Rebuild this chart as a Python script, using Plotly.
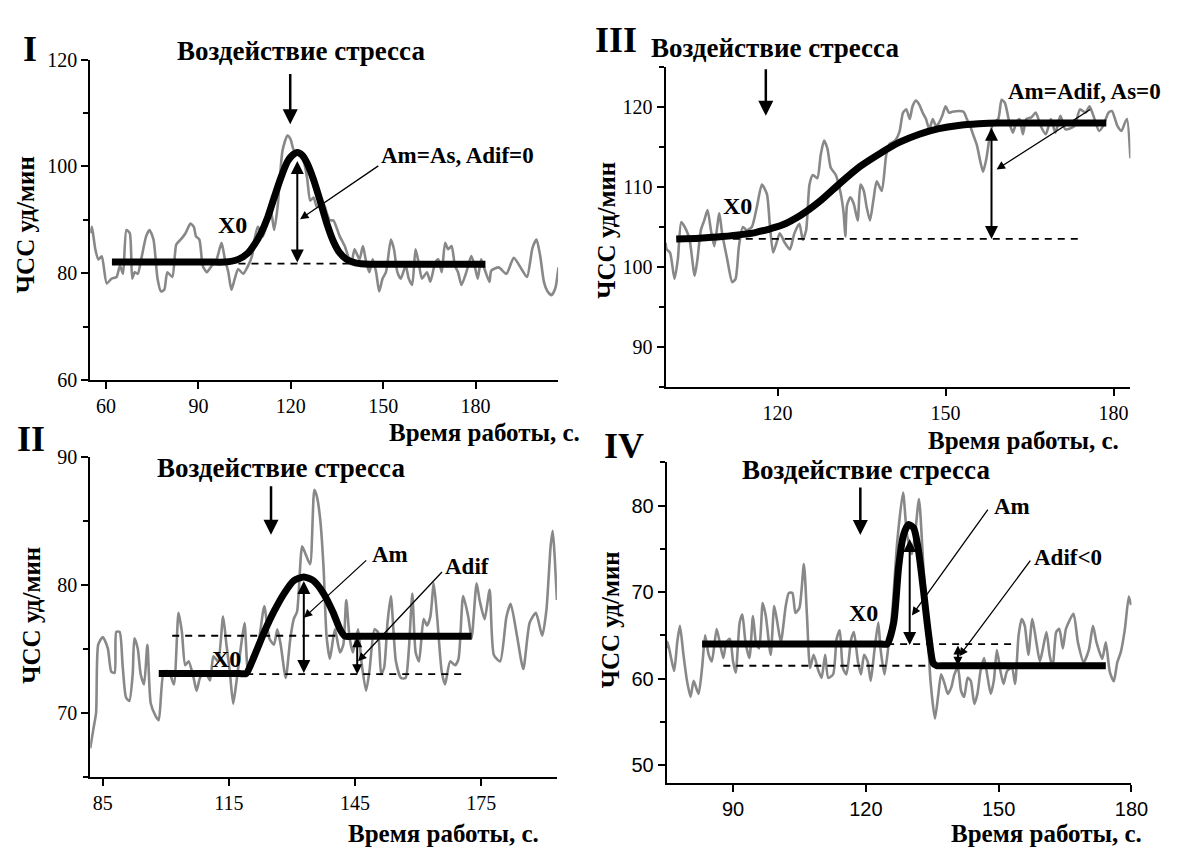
import plotly.graph_objects as go

W, H = 1202, 848

# ---------------- DATA ----------------
# Panel I
I_t = [55.0, 55.4, 56.5, 57.5, 58.6, 60.2, 61.8, 63.4, 64.5, 65.5, 66.6, 67.7, 68.5, 69.3, 70.3, 71.4, 73.0, 74.1,
       75.4, 76.7, 77.8, 78.9, 79.9, 81.5, 82.8, 84.2, 85.8, 87.4, 88.5, 89.2, 90.3, 91.4, 92.7, 94.3, 95.9, 97.5,
       98.6, 99.7, 100.7, 101.8, 102.9, 104.5, 106.1, 107.4, 108.2, 109.3, 110.9, 112.5, 113.5, 114.6, 115.7, 117.3,
       118.9, 119.9, 121.0, 122.6, 124.2, 125.3, 126.3, 127.4, 128.5, 130.6, 131.7, 132.7, 133.8, 135.9, 137.5,
       138.6, 139.7, 140.7, 142.3, 143.4, 144.5, 145.5, 146.6, 147.7, 148.7, 149.8, 150.9, 152.5, 153.5, 154.6,
       155.7, 157.3, 158.3, 159.4, 160.5, 161.5, 162.6, 164.2, 165.3, 166.9, 167.9, 169.0, 170.1, 171.1, 172.2,
       173.3, 174.3, 175.4, 177.0, 178.6, 179.7, 180.7, 181.8, 182.9, 184.5, 185.1, 187.5, 190.0, 192.4, 194.9,
       196.7, 198.5, 199.8, 201.0, 202.2, 203.4, 204.7, 205.9, 206.9]
I_v = [87.5, 88.7, 84.5, 82.6, 83.2, 78.1, 79.0, 79.3, 81.4, 79.9, 88.1, 87.5, 79.0, 80.2, 79.9, 82.6, 86.9, 88.1,
       86.3, 79.0, 76.6, 76.9, 80.2, 79.3, 85.4, 86.3, 87.5, 89.3, 88.7, 86.9, 86.3, 81.4, 80.2, 81.4, 82.6, 85.7,
       82.6, 80.2, 76.9, 79.0, 80.8, 79.9, 81.4, 83.2, 86.3, 88.7, 86.9, 89.9, 91.8, 88.1, 92.4, 103.0,
       105.8, 105.1, 103.0, 102.4, 100.9, 97.8, 93.6, 94.2, 92.4, 93.0, 91.2, 89.9, 89.9, 86.9, 85.1,
       83.2, 82.0, 84.5, 82.6, 85.1, 82.0, 80.2, 82.6, 80.2, 76.6, 79.0, 80.2, 86.3, 84.5, 80.2,
       79.0, 81.4, 79.0, 77.8, 84.5, 82.0, 79.0, 80.2, 78.4, 82.0, 82.6, 80.2, 85.7, 84.5, 85.1,
       81.4, 80.2, 77.8, 80.2, 83.2, 81.4, 79.0, 82.6, 80.8, 78.4, 80.5, 81.1, 79.9, 82.9, 80.8,
       79.3, 84.8, 86.3, 83.2, 78.4, 76.6, 75.9, 77.2, 81.1]
I_fit_t = [61.9, 72.0, 84.0, 93.0, 98.6, 102.9, 106.1, 108.2, 110.3, 112.5, 114.6, 116.7, 118.9, 120.5, 122.1,
           123.7, 125.3, 127.4, 129.5, 131.7, 133.8, 135.9, 138.1, 141.3, 145.5, 152.0, 162.0, 172.0, 183.2]
I_fit_v = [82.1, 82.1, 82.1, 82.1, 82.1, 82.6, 83.8, 85.4, 87.5, 90.5, 94.2, 97.8, 100.9, 102.1, 102.6,
           102.1, 100.6, 97.5, 93.6, 89.3, 86.0, 83.8, 82.6, 81.9, 81.7, 81.7, 81.7, 81.7, 81.7]
I_base = 81.8
I_dash_t = [103.0, 140.0]

# Panel III
III_t = [100.0, 100.2, 100.8, 101.6, 102.2, 102.8, 103.7, 104.3, 105.2, 105.7, 106.3, 106.9, 107.5, 108.1, 108.7,
         109.6, 110.1, 111.0, 111.9, 112.5, 113.1, 113.8, 114.5, 115.4, 116.3, 117.2, 118.1, 118.6, 119.2, 119.8,
         120.4, 121.3, 122.2, 123.0, 123.9, 124.5, 125.1, 125.7, 126.3, 127.1, 127.7, 128.3, 128.9, 129.5, 130.4,
         131.3, 131.8, 132.1, 132.4, 133.0, 133.6, 134.3, 134.8, 135.4, 135.9, 136.5, 137.1, 137.7, 138.6, 139.4,
         140.0, 140.6, 141.2, 141.8, 142.4, 143.0, 143.6, 144.1, 144.7, 145.3, 145.9, 146.5, 147.1, 147.7, 148.3,
         148.8, 149.4, 150.0, 150.6, 151.2, 152.4, 153.2, 153.8, 154.4, 155.0, 155.6, 156.2, 156.7, 157.3, 157.9,
         158.5, 159.4, 160.0, 160.6, 161.4, 162.0, 162.6, 163.2, 163.8, 164.4, 165.3, 166.1, 167.0, 167.9, 168.8,
         169.6, 170.5, 171.4, 173.0, 174.0, 175.0, 175.7, 176.4, 177.4, 178.1, 179.1, 179.7, 180.7, 181.4, 182.0,
         182.4, 183.0]
III_v = [103.0, 102.2, 101.8, 98.5, 101.0, 105.6, 104.6, 103.4, 98.9, 101.0, 104.6, 105.8, 107.1, 104.6, 102.6,
         106.7, 104.2, 101.0, 98.1, 98.5, 102.6, 105.0, 104.6, 105.0, 107.5, 110.3, 109.1, 105.4, 101.8, 103.0,
         104.2, 103.0, 102.2, 104.2, 105.4, 103.4, 104.6, 110.3, 111.5, 111.1, 114.0, 115.8, 114.8, 112.4, 111.5,
         109.1, 106.7, 103.8, 107.7, 108.7, 107.9, 105.8, 110.3, 109.5, 107.5, 105.8, 108.3, 110.7, 109.5, 114.0,
         115.4, 115.6, 116.0, 117.0, 119.3, 119.7, 118.5, 120.1, 120.8, 120.3, 119.3, 118.5, 117.2, 118.5, 117.6,
         118.0, 118.9, 120.1, 119.3, 119.4, 119.5, 119.4, 118.5, 117.6, 116.4, 115.2, 113.2, 111.9, 113.6, 116.4,
         118.0, 118.5, 120.9, 120.5, 118.0, 116.8, 118.0, 118.5, 116.6, 118.5, 118.7, 119.3, 117.6, 116.6, 118.5,
         116.8, 118.9, 117.2, 117.6, 119.7, 119.3, 120.1, 118.9, 117.0, 117.6, 119.3, 119.5, 117.6, 117.0, 118.0,
         118.5, 113.6]
III_fit_t = [101.9, 106.0, 110.1, 116.0, 120.7, 124.2, 127.7, 131.2, 134.8, 138.3, 141.8, 145.3, 148.8, 152.3,
             155.9, 159.4, 165.0, 172.0, 178.7]
III_fit_v = [103.5, 103.6, 103.8, 104.3, 105.2, 106.5, 108.3, 110.5, 112.6, 114.2, 115.6, 116.6, 117.3, 117.7,
             117.9, 118.0, 118.0, 118.0, 118.0]
III_base = 103.5
III_dash_t = [112.0, 173.7]

# Panel II
II_t = [82.0, 82.8, 83.4, 83.9, 85.0, 86.2, 87.0, 87.8, 88.2, 89.0, 89.7, 90.5, 91.3, 92.1, 92.5, 93.3, 94.0, 94.8,
        95.6, 96.4, 97.6, 98.3, 99.5, 100.7, 101.9, 103.0, 103.8, 104.6, 105.4, 106.6, 107.3, 108.1, 109.3, 110.5,
        111.3, 112.4, 113.6, 114.4, 115.2, 116.0, 116.7, 117.9, 118.7, 119.5, 120.3, 121.0, 122.2, 123.4, 124.6,
        125.7, 126.5, 127.3, 128.5, 129.6, 130.4, 131.2, 132.4, 133.2, 134.3, 135.3, 135.9, 136.7, 137.5, 138.2,
        139.0, 140.2, 141.4, 142.2, 142.9, 143.7, 144.5, 145.7, 146.5, 147.6, 148.4, 149.6, 150.4, 151.2, 151.9,
        152.7, 153.5, 154.7, 155.9, 157.0, 157.8, 158.6, 159.4, 160.2, 161.3, 162.1, 162.9, 163.7, 164.5, 165.6,
        166.4, 167.6, 168.8, 169.6, 170.7, 171.9, 172.7, 173.9, 174.6, 175.8, 177.0, 178.0, 179.5, 181.0, 182.0,
        183.5, 185.0, 186.5, 188.0, 189.5, 190.5, 191.5, 192.0, 192.5, 193.0]
II_v = [67.2, 68.8, 70.0, 75.3, 75.9, 75.0, 73.2, 73.1, 76.3, 76.3, 73.7, 71.2, 70.9, 73.0, 75.8, 75.0, 73.0, 72.2,
        75.3, 70.7, 69.7, 69.4, 73.2, 73.2, 72.2, 77.8, 76.3, 73.7, 74.0, 72.7, 71.7, 72.7, 73.2, 72.5,
        74.4, 74.0, 77.5, 75.3, 73.2, 70.7, 72.2, 75.3, 77.0, 73.2, 74.2, 74.0, 75.8, 78.3, 75.8,
        75.3, 76.5, 75.3, 72.7, 75.8, 77.3, 77.9, 83.0, 82.4, 81.6, 87.4, 86.9, 85.1, 81.3, 76.0,
        74.2, 76.5, 74.7, 75.3, 78.8, 75.8, 74.7, 76.5, 74.0, 71.7, 73.2, 76.5, 76.3, 73.0, 73.5,
        77.0, 79.1, 74.0, 72.7, 72.7, 75.0, 79.3, 74.7, 74.0, 77.3, 76.8, 77.5, 80.1, 77.5, 73.2,
        72.2, 74.0, 73.7, 74.2, 79.1, 77.5, 75.8, 80.1, 78.8, 77.3, 79.6, 74.5, 74.0, 77.5, 78.5,
        76.0, 73.4, 77.0, 77.8, 76.0, 78.0, 83.0, 84.2, 82.0, 78.8]
II_fit_t = [98.3, 105.0, 112.0, 117.5, 119.1, 121.0, 123.4, 125.7, 128.1, 130.4, 132.8, 135.1, 137.5, 139.8, 141.4,
            142.6, 145.0, 152.0, 162.0, 172.7]
II_fit_v = [73.05, 73.05, 73.05, 73.05, 73.05, 74.4, 76.3, 77.9, 79.3, 80.3, 80.6, 80.3, 79.3, 77.8, 76.5,
            75.97, 75.97, 75.97, 75.97, 75.97]
II_upper = 76.0
II_lower = 73.0
II_upper_t = [101.5, 142.6]
II_lower_t = [119.1, 171.5]

# Panel IV
IV_t = [75.0, 75.2, 76.0, 76.7, 77.4, 78.0, 78.8, 79.6, 80.4, 81.1, 82.2, 83.0, 83.7, 84.5, 85.2, 86.3, 87.1, 87.8,
        88.5, 89.3, 90.0, 90.6, 91.5, 92.1, 92.8, 93.7, 94.5, 95.2, 95.9, 96.7, 97.4, 98.5, 99.3, 100.0, 100.8,
        101.9, 102.6, 103.4, 104.1, 105.0, 106.0, 106.7, 107.4, 108.2, 109.3, 110.0, 110.8, 111.5, 112.6, 113.4,
        114.1, 114.8, 115.6, 116.7, 117.3, 118.2, 118.9, 119.6, 120.4, 121.1, 121.9, 122.8, 123.3, 124.2, 125.2,
        126.0, 127.1, 128.4, 129.3, 130.4, 131.1, 132.0, 133.0, 133.7, 134.6, 135.6, 136.3, 137.0, 137.8, 138.5,
        139.3, 140.0, 140.8, 141.5, 142.2, 143.0, 143.7, 144.5, 145.2, 145.9, 146.7, 147.4, 148.2, 148.9, 149.6,
        150.4, 151.1, 151.9, 153.0, 153.7, 154.5, 155.2, 155.9, 156.7, 157.6, 158.5, 159.3, 160.0, 160.8, 161.5,
        162.2, 163.0, 163.7, 164.5, 165.2, 166.9, 167.9, 169.2, 170.4, 171.3, 172.1, 173.4, 174.2, 175.1, 176.0,
        176.8, 177.6, 178.5, 179.4, 179.9]
IV_v = [63.5, 64.25, 62.4, 60.9, 64.25, 66.1, 62.75, 59.75, 57.9, 59.75, 58.25, 61.25, 65.0, 62.75, 62.0, 65.75,
        63.9, 62.4, 64.25, 64.6, 62.0, 60.7, 66.5, 67.4, 64.25, 62.4, 67.25, 64.1, 63.5, 68.75, 67.25, 62.75,
        68.4, 66.5, 64.25, 68.4, 69.9, 69.9, 67.6, 68.2, 73.25, 67.25, 61.25, 62.75, 60.9, 60.1, 62.75, 60.1,
        60.5, 64.6, 65.6, 61.25, 60.5, 64.6, 65.4, 62.0, 60.5, 62.75, 62.0, 59.75, 63.1, 66.5, 63.5, 60.5,
        64.25, 68.0, 75.9, 81.5, 76.6, 74.4, 76.6, 80.75, 72.9, 68.0, 59.75, 55.4, 57.9, 60.5, 59.4, 58.25,
        59.0, 60.5, 61.25, 58.6, 57.9, 60.1, 59.75, 57.1, 58.25, 60.9, 62.4, 60.5, 58.25, 59.75, 63.3, 60.9,
        59.4, 60.9, 61.25, 59.4, 65.0, 66.9, 66.1, 62.75, 66.9, 64.25, 62.0, 63.5, 65.4, 62.75, 61.25, 65.4,
        65.75, 63.5, 65.75, 67.5, 64.2, 61.9, 63.4, 66.1, 64.2, 62.3, 64.2, 60.8, 59.7, 61.9, 63.1, 65.7,
        69.5, 68.5]
IV_fit_t = [83.0, 95.0, 108.0, 118.0, 123.5, 124.8, 126.3, 127.4, 128.5, 129.6, 130.8, 131.9, 133.0, 134.1, 135.2,
            136.0, 137.5, 145.0, 160.0, 174.2]
IV_fit_v = [64.0, 64.0, 64.0, 64.0, 64.0, 64.0, 66.5, 72.9, 76.6, 77.8, 77.4, 74.75, 70.25, 65.4, 61.8,
            61.5, 61.5, 61.5, 61.5, 61.5]
IV_upper = 64.0
IV_lower = 61.5
IV_upper_t = [124.8, 153.7]
IV_lower_t = [87.8, 134.5]

# tick labels
I_xticks = [60, 90, 120, 150, 180]
I_yticks = [60, 80, 100, 120]
III_xticks = [120, 150, 180]
III_yticks = [90, 100, 110, 120]
II_xticks = [85, 115, 145, 175]
II_yticks = [70, 80, 90]
IV_xticks = [90, 120, 150, 180]
IV_yticks = [50, 60, 70, 80]

STRESS = "Воздействие стресса"
YLAB = "ЧСС уд/мин"
XLAB = "Время работы, с."

# ---------------- FIGURE ----------------
SERIF = "Liberation Serif, Times New Roman, serif"
SANS = "Liberation Sans, Arial, sans-serif"
GREY = "#888888"


def fx(p):
    return p / W


def fy(p):
    return 1 - p / H


fig = go.Figure()

panels = [
    ("x", "y", I_t, I_v, I_fit_t, I_fit_v),
    ("x2", "y2", III_t, III_v, III_fit_t, III_fit_v),
    ("x3", "y3", II_t, II_v, II_fit_t, II_fit_v),
    ("x4", "y4", IV_t, IV_v, IV_fit_t, IV_fit_v),
]

dash_sets = {
    "x": [(I_dash_t, I_base)],
    "x2": [(III_dash_t, III_base)],
    "x3": [(II_upper_t, II_upper), (II_lower_t, II_lower)],
    "x4": [(IV_upper_t, IV_upper), (IV_lower_t, IV_lower)],
}

for xa, ya, gt, gv, ft, fv in panels:
    fig.add_trace(go.Scatter(x=gt, y=gv, mode="lines", xaxis=xa, yaxis=ya,
                             line=dict(color=GREY, width=2.6, shape="spline", smoothing=0.6),
                             showlegend=False, hoverinfo="skip"))
    for dt, lvl in dash_sets[xa]:
        fig.add_trace(go.Scatter(x=dt, y=[lvl, lvl], mode="lines", xaxis=xa, yaxis=ya,
                                 line=dict(color="black", width=1.8, dash="7px,6px"),
                                 showlegend=False, hoverinfo="skip"))
    fig.add_trace(go.Scatter(x=ft, y=fv, mode="lines", xaxis=xa, yaxis=ya,
                             line=dict(color="black", width=7, shape="spline", smoothing=0.6),
                             showlegend=False, hoverinfo="skip"))


def xax(dom, rng, ticks, yanchor, family):
    return dict(domain=dom, range=rng, tickvals=ticks, anchor=yanchor, showline=True, linecolor="black",
                linewidth=2, ticks="outside", ticklen=7, tickwidth=1.5, tickcolor="black", showgrid=False,
                zeroline=False, tickfont=dict(family=family, size=20, color="black"))


def yax(dom, rng, ticks, minor, xanchor, family):
    return dict(domain=dom, range=rng, tickvals=ticks, anchor=xanchor, showline=True, linecolor="black",
                linewidth=2, ticks="outside", ticklen=7, tickwidth=1.5, tickcolor="black", showgrid=False,
                zeroline=False, tickfont=dict(family=family, size=20, color="black"),
                minor=dict(dtick=minor, tick0=0, ticks="outside", ticklen=5, tickwidth=1.5, tickcolor="black",
                           showgrid=False))


fig.update_layout(
    width=W, height=H, margin=dict(l=0, r=0, t=0, b=0),
    paper_bgcolor="white", plot_bgcolor="white", showlegend=False,
    xaxis=xax([fx(83.4), fx(558)], [54.85, 206.8], I_xticks, "y", SERIF),
    yaxis=yax([fy(370.7), fy(41.7)], [60, 120], I_yticks, 10, "x", SERIF),
    xaxis2=xax([fx(667), fx(1138.5)], [100, 183], III_xticks, "y2", SERIF),
    yaxis2=yax([fy(377.7), fy(49.3)], [85, 125], III_yticks, 5, "x2", SERIF),
    xaxis3=xax([fx(83.4), fx(556.8)], [82, 193], II_xticks, "y3", SERIF),
    yaxis3=yax([fy(777.7), fy(449.3)], [65, 90], II_yticks, 5, "x3", SERIF),
    xaxis4=xax([fx(668.1), fx(1139.6)], [75, 180], IV_xticks, "y4", SANS),
    yaxis4=yax([fy(784), fy(455)], [48, 85], IV_yticks, 5, "x4", SANS),
)

ann = []


def text(px, py, s, size, angle=0):
    ann.append(dict(x=fx(px), y=fy(py), xref="paper", yref="paper", text="<b>" + s + "</b>", showarrow=False,
                    xanchor="center", yanchor="middle", textangle=angle,
                    font=dict(family=SERIF, size=size, color="black")))


def arrow(xa, ya, x0, y0, x1, y1, width, head=2, size=1.0, both=False):
    ann.append(dict(x=x1, y=y1, ax=x0, ay=y0, xref=xa, yref=ya, axref=xa, ayref=ya, text="",
                    showarrow=True, arrowhead=head, arrowsize=size, arrowwidth=width, arrowcolor="black",
                    startarrowhead=head, startarrowsize=size, arrowside="end+start" if both else "end",
                    standoff=0, startstandoff=0))


# Panel I
text(22, 31, "I", 36)
text(297, 33, STRESS, 27)
arrow("x", "y", 119.8, 117.6, 119.8, 107.9, 2.5, 2, 1.2)
text(456, 140, "Am=As, Adif=0", 23)
arrow("x", "y", 148.9, 100.3, 123.0, 90.1, 1.3, 2, 1.3)
arrow("x", "y", 122.1, 101.3, 122.1, 82.0, 2.0, 2, 1.3, both=True)
text(228, 211, "X0", 24)
text(18, 211, YLAB, 25, -90)
text(483, 424, XLAB, 25)

# Panel III
text(617, 22, "III", 36)
text(778, 30, STRESS, 27)
arrow("x2", "y2", 117.9, 124.9, 117.9, 118.9, 2.5, 2, 1.2)
text(1092, 74, "Am=Adif, As=0", 23)
arrow("x2", "y2", 176.1, 119.8, 159.1, 112.2, 1.3, 2, 1.3)
arrow("x2", "y2", 158.2, 117.6, 158.2, 103.5, 2.0, 2, 1.3, both=True)
text(740, 192, "X0", 24)
text(607, 217, YLAB, 25, -90)
text(1030, 433, XLAB, 25)

# Panel II
text(23, 431, "II", 36)
text(277, 461, STRESS, 27)
arrow("x3", "y3", 125.0, 87.8, 125.0, 83.9, 2.5, 2, 1.2)
text(387, 550, "Am", 23)
arrow("x3", "y3", 148.0, 82.0, 132.8, 77.4, 1.3, 2, 1.3)
text(466, 562, "Adif", 23)
arrow("x3", "y3", 166.0, 81.1, 145.7, 74.0, 1.3, 2, 1.3)
arrow("x3", "y3", 132.8, 80.4, 132.8, 73.1, 2.0, 2, 1.3, both=True)
arrow("x3", "y3", 145.5, 76.0, 145.5, 73.0, 2.0, 2, 1.0, both=True)
text(222, 657, "X0", 24)
text(23, 612, YLAB, 25, -90)
text(442, 836, XLAB, 25)

# Panel IV
text(625, 438, "IV", 36)
text(870, 463, STRESS, 27)
arrow("x4", "y4", 118.75, 82.25, 118.75, 76.6, 2.5, 2, 1.2)
text(1018, 500, "Am", 23)
arrow("x4", "y4", 147.8, 79.7, 130.4, 67.3, 1.3, 2, 1.3)
text(1075, 553, "Adif&lt;0", 23)
arrow("x4", "y4", 157.4, 73.8, 141.1, 62.6, 1.3, 2, 1.3)
arrow("x4", "y4", 129.9, 76.3, 129.9, 63.9, 2.0, 2, 1.3, both=True)
arrow("x4", "y4", 140.8, 64.0, 140.8, 61.5, 2.0, 2, 0.9, both=True)
text(868, 610, "X0", 24)
text(612, 617, YLAB, 25, -90)
text(1053, 836, XLAB, 25)

fig.update_layout(annotations=ann)
fig.write_html("out.html")
